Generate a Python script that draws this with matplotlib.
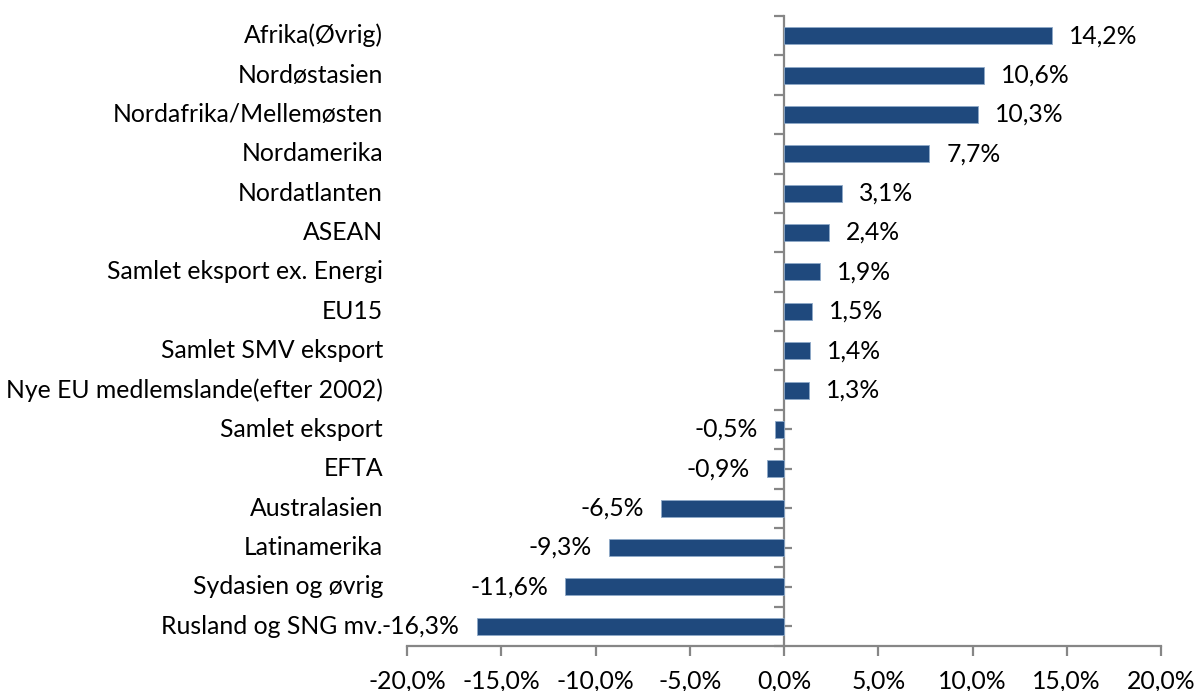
import matplotlib
matplotlib.use("Agg")
import matplotlib.pyplot as plt
from matplotlib.transforms import blended_transform_factory, offset_copy
import numpy as np

categories = ["Afrika(Øvrig)", "Nordøstasien", "Nordafrika/Mellemøsten", "Nordamerika",
              "Nordatlanten", "ASEAN", "Samlet eksport ex. Energi", "EU15",
              "Samlet SMV eksport", "Nye EU medlemslande(efter 2002)", "Samlet eksport",
              "EFTA", "Australasien", "Latinamerika", "Sydasien og øvrig", "Rusland og SNG mv."]
values = [14.2, 10.6, 10.3, 7.7, 3.1, 2.4, 1.9, 1.5, 1.4, 1.3, -0.5, -0.9, -6.5, -9.3, -11.6, -16.3]
xticks = [-20, -15, -10, -5, 0, 5, 10, 15, 20]

plt.rcParams['font.family'] = ['Lato', 'DejaVu Sans']
FS = 17.8
BAR = '#1F497D'
AX = '#868686'

fig = plt.figure(figsize=(12, 6.91), dpi=100)
ax = fig.add_axes([407/1200, 1-646/691, (1161-407)/1200, 630/691])

n = len(categories)
y = np.arange(n)
ax.barh(y, values, height=0.43, color=BAR, edgecolor='#8EA9C8', linewidth=0.6, zorder=3)
ax.set_ylim(n-0.5, -0.5)
ax.set_xlim(-20, 20)

for s in ['top', 'right']:
    ax.spines[s].set_visible(False)
ax.spines['left'].set_position(('data', 0))
ax.spines['left'].set_color(AX)
ax.spines['left'].set_linewidth(1.6)
ax.spines['bottom'].set_color(AX)
ax.spines['bottom'].set_linewidth(1.6)

ax.set_yticks(y)
ax.set_yticks(np.arange(n+1)-0.5, minor=True)
ax.tick_params(axis='y', which='major', direction='in', length=6, width=1.6, color=AX, labelleft=False)
ax.tick_params(axis='y', which='minor', direction='out', length=7, width=1.6, color=AX)

ax.set_xticks(xticks)
ax.set_xticklabels([f"{t:.1f}%".replace('.', ',') for t in xticks], fontsize=FS)
ax.tick_params(axis='x', direction='out', length=7, width=1.6, color=AX, pad=10)

trans = blended_transform_factory(ax.transAxes, ax.transData)
trans = offset_copy(trans, fig=fig, x=-24, y=0, units='dots')
for yi, c in zip(y, categories):
    ax.text(0, yi, c, transform=trans, ha='right', va='center', fontsize=FS)

for yi, v in zip(y, values):
    lab = f"{v:.1f}%".replace('.', ',')
    off = 17 if v >= 0 else -17
    t = offset_copy(ax.transData, fig=fig, x=off, y=0, units='dots')
    ax.text(v, yi, lab, transform=t, ha='left' if v >= 0 else 'right', va='center', fontsize=FS)

fig.savefig('out.png', dpi=100)
